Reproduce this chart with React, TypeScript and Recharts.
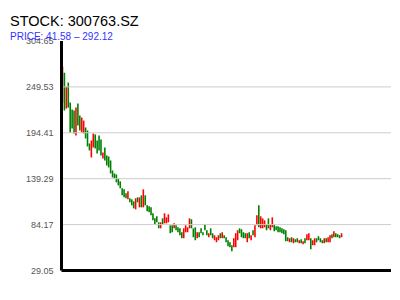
import { BarChart, Bar, XAxis, YAxis, ReferenceLine, Cell } from "recharts";

const TITLE = "STOCK: 300763.SZ";
const SUBTITLE = "PRICE: 41.58 – 292.12";

const yTicks = [29.05, 84.17, 139.29, 194.41, 249.53, 304.65];

// daily open / close
const opens = [
  230.7, 266.6, 223.5, 254.7, 230.7, 222.3, 221.1, 191.2, 229.5, 215.1,
  194.8, 193.6, 200.8, 197.2, 181.6, 164.8, 176.8, 192.4, 185.2, 191.2,
  186.4, 163.6, 176.8, 167.2, 166.0, 161.2, 149.2, 145.6, 144.4, 139.6,
  136.1, 127.7, 126.5, 121.7, 114.5, 115.7, 114.5, 112.1, 102.5, 116.9,
  104.9, 119.3, 104.9, 119.3, 107.3, 106.1, 104.9, 97.7, 91.7, 94.1,
  86.9, 79.7, 91.7, 85.7, 85.7, 86.9, 83.3, 83.3, 79.7, 83.3,
  80.9, 79.7, 75.0, 67.8, 75.0, 75.0, 79.7, 90.5, 79.7, 80.9,
  67.8, 75.0, 79.7, 75.0, 84.5, 77.4, 69.0, 79.7, 73.8, 65.4,
  63.0, 65.4, 73.8, 67.8, 71.4, 69.0, 65.4, 63.0, 59.4, 57.0,
  57.0, 65.4, 79.7, 78.6, 75.0, 73.8, 63.0, 75.0, 65.4, 77.4,
  69.0, 83.3, 107.3, 79.7, 79.7, 80.9, 84.5, 91.7, 77.4, 80.9,
  84.5, 82.1, 82.1, 80.9, 79.7, 78.6, 77.4, 69.0, 63.0, 69.0,
  61.8, 66.6, 67.8, 61.8, 66.6, 60.6, 67.8, 65.4, 65.4, 67.8,
  59.4, 59.4, 67.8, 70.2, 67.8, 65.4, 61.8, 67.8, 63.0, 63.0,
  72.6, 69.0, 73.8, 72.6, 71.4, 69.0,
];

const closes = [
  273.8, 221.1, 249.9, 224.7, 194.8, 199.6, 193.6, 224.7, 203.2, 197.2,
  212.7, 209.1, 187.6, 178.0, 173.2, 185.2, 193.6, 175.6, 169.6, 173.2,
  167.2, 170.8, 161.2, 155.2, 152.8, 145.6, 140.8, 139.6, 134.9, 131.3,
  127.7, 119.3, 116.9, 115.7, 124.1, 110.9, 107.3, 103.7, 115.7, 110.9,
  116.9, 104.9, 126.5, 107.3, 100.1, 98.9, 95.3, 89.3, 84.5, 86.9,
  79.7, 86.9, 84.5, 97.7, 92.9, 96.5, 73.8, 75.0, 85.7, 77.4,
  75.0, 71.4, 67.8, 79.7, 83.3, 80.9, 91.7, 79.7, 69.0, 65.4,
  75.0, 69.0, 73.8, 71.4, 77.4, 71.4, 73.8, 71.4, 67.8, 71.4,
  69.0, 71.4, 67.8, 75.0, 67.8, 63.0, 58.2, 57.0, 52.2, 67.8,
  73.8, 77.4, 73.8, 69.0, 67.8, 67.8, 73.8, 67.8, 71.4, 71.4,
  83.3, 95.3, 80.9, 94.1, 91.7, 89.3, 77.4, 79.7, 84.5, 92.9,
  76.2, 77.4, 75.0, 75.0, 73.8, 72.6, 64.2, 64.2, 67.8, 63.0,
  67.8, 63.0, 63.0, 65.4, 61.8, 64.2, 61.8, 72.6, 73.8, 54.6,
  65.4, 67.8, 63.0, 65.4, 63.0, 61.8, 67.8, 63.0, 69.0, 71.4,
  67.8, 76.2, 69.0, 69.0, 67.8, 73.8,
];

// the time axis runs on past the last trading day
const X_SLOTS = 171;

const UP = "#ff0000";
const DOWN = "#008000";

const data = opens.map((o, i) => ({
  idx: i,
  open: o,
  close: closes[i],
  body: [Math.min(o, closes[i]), Math.max(o, closes[i])],
}));

const font = "'Liberation Sans', Arial, Helvetica, sans-serif";

export default function App() {
  return (
    <div
      style={{
        position: "absolute",
        left: 0,
        top: 0,
        width: 400,
        height: 300,
        background: "#fff",
        fontFamily: font,
      }}
    >
      <BarChart
        width={400}
        height={300}
        data={data}
        margin={{ top: 41, right: 9, bottom: 28.5, left: 0 }}
      >
        <XAxis
          type="number"
          dataKey="idx"
          domain={[-0.6, X_SLOTS - 0.4]}
          tick={false}
          tickLine={false}
          height={1}
          axisLine={{ stroke: "#000", strokeWidth: 3 }}
        />
        <YAxis
          type="number"
          domain={[yTicks[0], yTicks[yTicks.length - 1]]}
          ticks={yTicks}
          interval={0}
          width={61.5}
          tickLine={false}
          axisLine={{ stroke: "#000", strokeWidth: 3 }}
          tick={{ fill: "#555", fontSize: 9, fontFamily: font }}
        />
        {yTicks.slice(1, -1).map((v) => (
          <ReferenceLine key={v} y={v} stroke="#ccc" strokeWidth={1} />
        ))}
        <Bar dataKey="body" barSize={1.6} isAnimationActive={false}>
          {data.map((d, i) => (
            <Cell key={i} fill={d.close >= d.open ? UP : DOWN} />
          ))}
        </Bar>
      </BarChart>
      <div
        style={{
          position: "absolute",
          left: 10,
          top: 13.7,
          fontSize: 14.5,
          lineHeight: 1,
          color: "#000",
          whiteSpace: "nowrap",
        }}
      >
        {TITLE}
      </div>
      <div
        style={{
          position: "absolute",
          left: 10,
          top: 31.5,
          fontSize: 10,
          lineHeight: 1,
          color: "#3333ff",
          whiteSpace: "nowrap",
        }}
      >
        {SUBTITLE}
      </div>
    </div>
  );
}
